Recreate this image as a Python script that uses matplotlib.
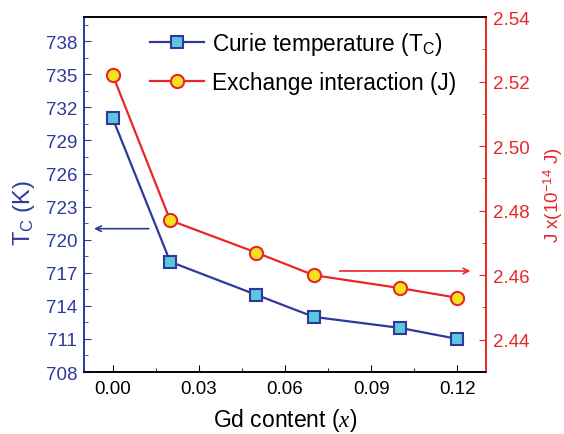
import numpy as np
import matplotlib
matplotlib.use("Agg")
from matplotlib import pyplot as plt
from matplotlib.ticker import MultipleLocator, FormatStrFormatter

plt.rcParams['font.family'] = ['Liberation Sans', 'DejaVu Sans']
plt.rcParams['mathtext.fontset'] = 'custom'
plt.rcParams['mathtext.rm'] = 'Liberation Sans'
plt.rcParams['mathtext.it'] = 'Liberation Serif:italic'

# Gd content and the two measured quantities
gd_content = [0.00, 0.02, 0.05, 0.07, 0.10, 0.12]
curie_temp = [731.0, 718.0, 715.0, 713.0, 712.0, 711.0]
exchange_j = [2.522, 2.477, 2.467, 2.460, 2.456, 2.453]

blue = '#2e3a9a'
red = '#e8262a'

fig = plt.figure(figsize=(5.64, 4.35), dpi=100)
ax = fig.add_axes([0.149, 0.1425, 0.713, 0.8161])
ax2 = ax.twinx()

l1, = ax.plot(gd_content, curie_temp, '-s', color=blue, lw=1.6,
              markersize=8, markerfacecolor='#5cc6df', markeredgecolor=blue,
              markeredgewidth=1.5, label='Curie temperature (T$_\\mathrm{C}$)')
l2, = ax2.plot(gd_content, exchange_j, '-o', color=red, lw=1.6,
               markersize=9.5, markerfacecolor='#f4e21f', markeredgecolor=red,
               markeredgewidth=1.5, label='Exchange interaction (J)')

ax.set_xlim(-0.01, 0.13)
ax.set_ylim(708, 740.2)
ax2.set_ylim(2.43, 2.54)

ax.xaxis.set_major_locator(MultipleLocator(0.03))
ax.xaxis.set_minor_locator(MultipleLocator(0.015))
ax.yaxis.set_minor_locator(MultipleLocator(1.5))
ax.set_yticks(np.arange(708, 739, 3))
ax2.yaxis.set_major_locator(MultipleLocator(0.02))
ax2.yaxis.set_minor_locator(MultipleLocator(0.01))
ax.xaxis.set_major_formatter(FormatStrFormatter('%.2f'))
ax2.yaxis.set_major_formatter(FormatStrFormatter('%.2f'))

ax.tick_params(axis='x', which='both', direction='in', labelsize=13.5, pad=6)
ax.tick_params(axis='y', which='both', direction='in', colors=blue,
               labelsize=13.5, pad=5)
ax2.tick_params(axis='y', which='both', direction='in', colors=red,
                labelsize=13.5, pad=5)
for a in (ax, ax2):
    a.tick_params(which='major', length=5)
    a.tick_params(which='minor', length=3)
    a.spines['left'].set_color(blue)
    a.spines['right'].set_color(red)
    for s in a.spines.values():
        s.set_linewidth(1.2)

ax.set_xlabel('Gd content ($\\mathit{x}$)', fontsize=16.5, labelpad=6)
ax.set_ylabel('T$_\\mathrm{C}$ (K)', fontsize=17, color=blue)
ax.yaxis.set_label_coords(-0.117, 0.45)
ax2.set_ylabel('J x(10$^{-14}$ J)', fontsize=13.5, color=red)
ax2.yaxis.set_label_coords(1.137, 0.5)

# arrows pointing to each curve's axis
ax.annotate('', xy=(-0.0075, 721), xytext=(0.0135, 721),
            arrowprops=dict(arrowstyle='->', color=blue, lw=1.2))
ax2.annotate('', xy=(0.1255, 2.4613), xytext=(0.078, 2.4613),
             arrowprops=dict(arrowstyle='->', color=red, lw=1.2))

fig.legend(handles=[l1, l2], loc='upper left',
           bbox_to_anchor=(150 / 564, 1 - 31 / 435), bbox_transform=fig.transFigure,
           frameon=False, fontsize=16.3, handlelength=2.4, handletextpad=0.35,
           labelspacing=0.62, borderpad=0, borderaxespad=0)

plt.savefig('out.png', dpi=100)
